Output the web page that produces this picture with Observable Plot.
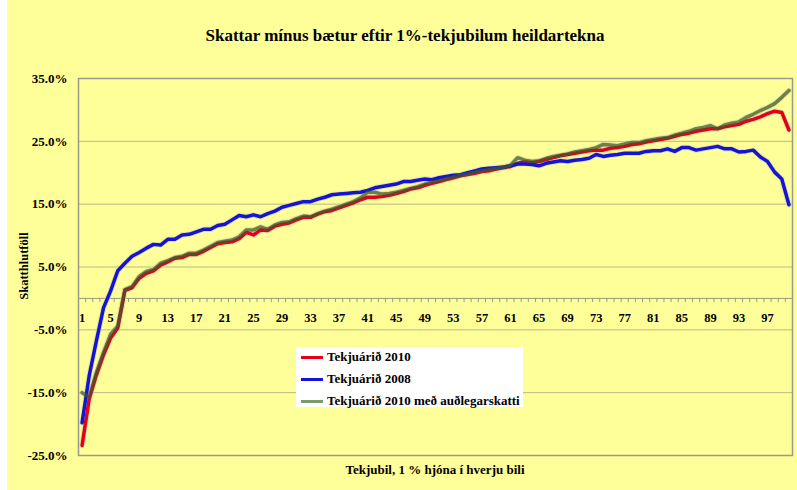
<!DOCTYPE html>
<html><head><meta charset="utf-8">
<script src="https://cdn.jsdelivr.net/npm/d3@7"></script>
<script src="https://cdn.jsdelivr.net/npm/@observablehq/plot@0.6"></script>
<style>
body{margin:0;background:#fff;}
#wrap{position:relative;width:797px;height:490px;overflow:hidden;font-family:"Liberation Serif","Times New Roman",serif;font-weight:bold;color:#000;}
#bg{position:absolute;left:7px;top:0;width:790px;height:490px;background:#FFFF99;}
#chart{position:absolute;left:0;top:0;}
#title{position:absolute;left:7px;width:796px;top:26px;text-align:center;font-size:17px;line-height:20px;}
#ytitle{position:absolute;left:24px;top:266px;transform:translate(-50%,-50%) rotate(-90deg);font-size:12.5px;white-space:nowrap;}
#xtitle{position:absolute;left:435px;top:470px;transform:translate(-50%,-50%);font-size:13px;white-space:nowrap;}
#legend{position:absolute;left:296px;top:347px;width:227px;height:60px;background:#fff;font-size:13px;}
.item{position:absolute;left:5px;height:16px;line-height:16px;white-space:nowrap;}
.sw{display:inline-block;width:22px;height:3px;vertical-align:middle;margin-right:4px;position:relative;top:-1px;}
</style></head>
<body>
<div id="wrap">
  <div id="bg"></div>
  <div id="chart"></div>
  <div id="title"></div>
  <div id="ytitle"></div>
  <div id="xtitle"></div>
  <div id="legend"></div>
</div>
<script>
const titleText = "Skattar mínus bætur eftir 1%-tekjubilum heildartekna";
const yTitleText = "Skatthlutföll";
const xTitleText = "Tekjubil, 1 % hjóna í hverju bili";
const seriesNames = ["Tekjuárið 2010", "Tekjuárið 2008", "Tekjuárið 2010 með auðlegarskatti"];
const seriesColors = ["#e2001a", "#1414d6", "#3c5a2a"];
const legendColors = ["#e2001a", "#1414d6", "#7a9a70"];

const categories = d3.range(1, 101);
const xTickLabels = [1,5,9,13,17,21,25,29,33,37,41,45,49,53,57,61,65,69,73,77,81,85,89,93,97];
const yTicks = [-25, -15, -5, 5, 15, 25, 35];

const red2010 = [
-23.4,-16.0,-12.2,-9.0,-6.3,-4.7,1.3,1.7,3.2,4.0,
4.4,5.3,5.8,6.4,6.5,7.0,7.0,7.5,8.1,8.7,
8.9,9.0,9.5,10.5,10.1,10.9,10.8,11.5,11.8,12.0,
12.5,12.9,12.9,13.4,13.8,14.0,14.4,14.8,15.2,15.7,
16.1,16.1,16.2,16.4,16.7,17.0,17.4,17.6,18.0,18.3,
18.6,18.9,19.2,19.5,19.7,19.9,20.2,20.3,20.6,20.8,
21.0,21.5,21.7,21.6,21.8,22.1,22.4,22.7,22.9,23.1,
23.3,23.5,23.6,23.6,23.9,24.0,24.2,24.5,24.6,24.9,
25.1,25.3,25.5,25.8,26.1,26.3,26.6,26.8,27.0,27.0,
27.3,27.5,27.7,28.2,28.5,28.9,29.4,29.8,29.6,26.8];

const blue2008 = [
-19.8,-12.3,-6.8,-1.5,1.2,4.4,5.6,6.7,7.3,8.0,
8.6,8.5,9.4,9.4,10.1,10.2,10.6,11.0,11.0,11.6,
11.8,12.5,13.2,13.0,13.3,13.0,13.5,13.9,14.5,14.8,
15.1,15.4,15.4,15.8,16.1,16.5,16.6,16.7,16.8,16.9,
17.2,17.6,17.8,18.0,18.2,18.6,18.6,18.8,19.0,18.9,
19.2,19.4,19.6,19.7,20.0,20.3,20.6,20.7,20.8,20.9,
21.1,21.4,21.4,21.3,21.1,21.5,21.7,21.9,21.8,22.0,
22.1,22.3,22.9,22.6,22.8,22.9,23.1,23.1,23.1,23.4,
23.5,23.5,23.8,23.4,24.0,24.0,23.6,23.8,24.0,24.2,
23.8,23.8,23.3,23.4,23.6,22.5,21.8,20.1,19.0,14.9];

const green2010wt = [
-15.0,-15.7,-11.8,-8.6,-5.7,-4.4,1.4,1.9,3.5,4.3,
4.6,5.6,6.0,6.5,6.7,7.2,7.2,7.7,8.3,8.9,
9.1,9.3,9.8,10.9,10.9,11.4,11.0,11.7,12.1,12.2,
12.7,13.1,13.0,13.5,13.9,14.2,14.6,15.0,15.4,16.0,
16.9,16.9,16.6,16.7,16.9,17.2,17.5,17.8,18.2,18.5,
18.7,19.0,19.3,19.6,19.8,20.1,20.3,20.5,20.7,20.9,
21.2,22.4,22.0,21.8,21.9,22.3,22.6,22.8,23.0,23.3,
23.5,23.7,24.0,24.5,24.4,24.3,24.6,24.8,24.8,25.1,
25.3,25.5,25.6,26.0,26.3,26.6,27.0,27.2,27.5,27.0,
27.6,27.9,28.1,28.8,29.3,29.9,30.4,31.0,32.0,33.1];

const seriesValues = [red2010, blue2008, green2010wt];
const boundaries = d3.range(0.5, 101, 1);

const lineMarks = [];
seriesValues.forEach((vals) => {
  lineMarks.push(Plot.line(vals, {x: (d, i) => categories[i], y: d => d, stroke: "#dedaa0", strokeWidth: 5.5, strokeOpacity: 0.7}));
});
seriesValues.forEach((vals, k) => {
  lineMarks.push(Plot.line(vals, {x: (d, i) => categories[i], y: d => d, stroke: seriesColors[k], strokeWidth: 3.5, strokeOpacity: k === 2 ? 0.72 : 1}));
});

const chart = Plot.plot({
  width: 797,
  height: 490,
  marginLeft: 78,
  marginRight: 5,
  marginTop: 78,
  marginBottom: 35,
  style: {background: "transparent", fontFamily: '"Liberation Serif","Times New Roman",serif', fontWeight: "bold", fontSize: "13px", color: "#000"},
  x: {domain: [0.5, 100.5], axis: null},
  y: {domain: [-25, 35], axis: null},
  marks: [
    Plot.gridY(yTicks, {stroke: "#bcb78a", strokeOpacity: 1}),
    Plot.ruleY([0], {stroke: "#9c9a7e", strokeWidth: 1}),
    Plot.ruleX(boundaries, {x: d => d, y1: 0, y2: -0.65, stroke: "#9c9a7e"}),
    ...lineMarks,
    Plot.text(xTickLabels, {x: d => d, y: 0, dy: 20, fill: "#000", fontSize: 12.5}),
    Plot.axisY(yTicks, {tickFormat: d => d.toFixed(1) + "%", tickSize: 0, tickPadding: 11, fontSize: 13}),
    Plot.frame({stroke: "#9a9a8a", strokeWidth: 1.5})
  ]
});
document.getElementById("chart").appendChild(chart);

document.getElementById("title").textContent = titleText;
document.getElementById("ytitle").textContent = yTitleText;
document.getElementById("xtitle").textContent = xTitleText;
const legend = document.getElementById("legend");
const legendTops = [2, 24, 46];
seriesNames.forEach((name, k) => {
  const it = document.createElement("div");
  it.className = "item";
  it.style.top = legendTops[k] + "px";
  const sw = document.createElement("span");
  sw.className = "sw";
  sw.style.background = legendColors[k];
  it.appendChild(sw);
  it.appendChild(document.createTextNode(name));
  legend.appendChild(it);
});
</script>
</body></html>
